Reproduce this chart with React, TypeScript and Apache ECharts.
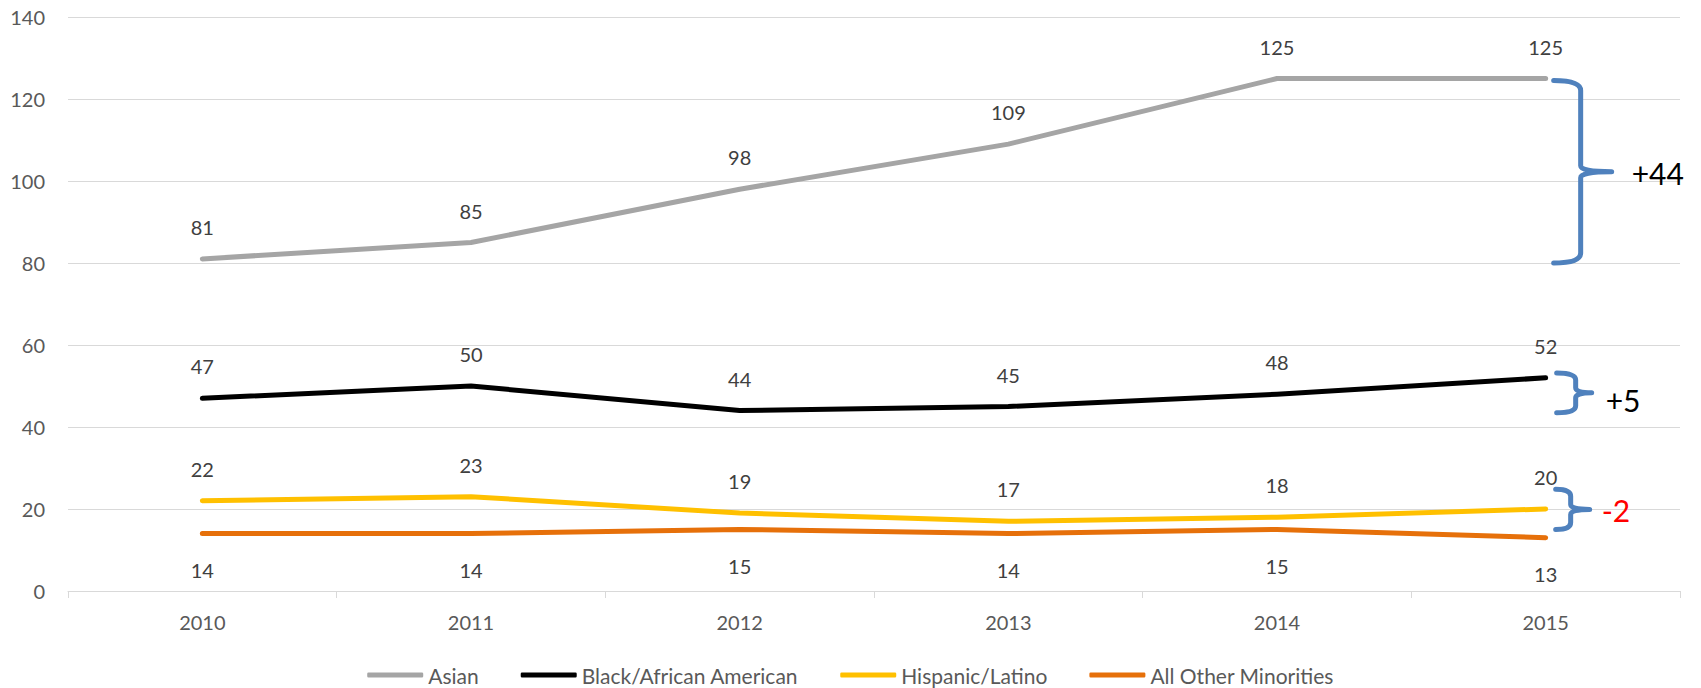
import React, { useEffect, useRef } from "react";
import * as echarts from "echarts";

const categories = ["2010", "2011", "2012", "2013", "2014", "2015"];
const asian = [81, 85, 98, 109, 125, 125];
const black = [47, 50, 44, 45, 48, 52];
const hispanic = [22, 23, 19, 17, 18, 20];
const otherMinorities = [14, 14, 15, 14, 15, 13];
const seriesNames = ["Asian", "Black/African American", "Hispanic/Latino", "All Other Minorities"];
const seriesColors = ["#A5A5A5", "#000000", "#FFC000", "#E6700A"];
const yMin = 0;
const yMax = 140;
const yInterval = 20;

// brace annotations (value ranges on the y axis)
const braceTops = [124.5, 53.2, 24.8];
const braceBottoms = [80, 43.5, 15];
const braceLabels = ["+44", "+5", "-2"];
const braceLabelColors = ["#000000", "#000000", "#FF0000"];

// brace geometry (pixel offsets from the last category centre)
const braceGeom = [
  { x0: 8, xv: 35, xt: 66, tx: 86, r: 10, rm: 6, dy: 1 },
  { x0: 11, xv: 30, xt: 46, tx: 60, r: 7, rm: 5, dy: 7 },
  { x0: 10, xv: 25, xt: 44, tx: 56, r: 7, rm: 5, dy: 1 },
];

const FONT = "Lato";

export default function App() {
  const ref = useRef<HTMLDivElement>(null);

  useEffect(() => {
    const chart = echarts.init(ref.current as HTMLDivElement, null, { renderer: "svg" });
    const data = [asian, black, hispanic, otherMinorities];

    chart.setOption({
      animation: false,
      backgroundColor: "#FFFFFF",
      grid: { left: 68, right: 21, top: 17, bottom: 97, containLabel: false },
      legend: {
        left: "center",
        top: 663,
        padding: 0,
        icon: "roundRect",
        itemWidth: 56,
        itemHeight: 5,
        itemGap: 42,
        textStyle: { fontFamily: FONT, fontSize: 21, color: "#595959", lineHeight: 24 },
        data: seriesNames,
      },
      xAxis: {
        type: "category",
        data: categories,
        boundaryGap: true,
        axisLine: { show: true, lineStyle: { color: "#D9D9D9", width: 1 } },
        axisTick: { show: true, length: 7, lineStyle: { color: "#D9D9D9" } },
        axisLabel: { fontFamily: FONT, fontSize: 20, color: "#595959", margin: 21 },
        splitLine: { show: false },
      },
      yAxis: {
        type: "value",
        min: yMin,
        max: yMax,
        interval: yInterval,
        axisLine: { show: false },
        axisTick: { show: false },
        axisLabel: { fontFamily: FONT, fontSize: 20, color: "#595959", margin: 23 },
        splitLine: { show: true, lineStyle: { color: "#D9D9D9", width: 1 } },
      },
      series: seriesNames.map((name, i) => ({
        name,
        type: "line",
        data: data[i],
        symbol: "circle",
        symbolSize: 2,
        showSymbol: true,
        itemStyle: { color: seriesColors[i] },
        lineStyle: { color: seriesColors[i], width: 5, cap: "round", join: "round" },
        label: {
          show: true,
          position: i === 3 ? "bottom" : "top",
          distance: i === 3 ? 25 : 21,
          fontFamily: FONT,
          fontSize: 20,
          color: "#404040",
        },
        z: 10 - i,
      })),
    });

    const lastIdx = categories.length - 1;
    const graphics: any[] = [];
    braceTops.forEach((topVal, i) => {
      const g = braceGeom[i];
      const pTop = chart.convertToPixel({ xAxisIndex: 0, yAxisIndex: 0 }, [lastIdx, topVal]) as number[];
      const pBot = chart.convertToPixel({ xAxisIndex: 0, yAxisIndex: 0 }, [lastIdx, braceBottoms[i]]) as number[];
      const xc = pTop[0];
      const yT = pTop[1];
      const yB = pBot[1];
      const ym = (yT + yB) / 2;
      const x0 = xc + g.x0;
      const xv = xc + g.xv;
      const xt = xc + g.xt;
      const d =
        `M${x0},${yT} Q${xv},${yT} ${xv},${yT + g.r} L${xv},${ym - g.rm} Q${xv},${ym} ${xt},${ym} ` +
        `M${xt},${ym} Q${xv},${ym} ${xv},${ym + g.rm} L${xv},${yB - g.r} Q${xv},${yB} ${x0},${yB}`;
      const shapeName = "brace" + i;
      echarts.graphic.registerShape(shapeName, (echarts.graphic as any).extendPath(d, {}));
      graphics.push({
        type: shapeName,
        x: 0,
        y: 0,
        z: 100,
        style: { fill: "none", stroke: "#4F81BD", lineWidth: 5, lineCap: "round", lineJoin: "round" },
      });
      graphics.push({
        type: "text",
        x: xc + g.tx,
        y: ym + g.dy,
        z: 100,
        style: {
          text: braceLabels[i],
          fontFamily: FONT,
          fontSize: 30,
          fill: braceLabelColors[i],
          verticalAlign: "middle",
          align: "left",
        },
      });
    });
    chart.setOption({ graphic: graphics });

    return () => {
      chart.dispose();
    };
  }, []);

  return (
    <div
      ref={ref}
      style={{ position: "fixed", left: 0, top: 0, width: 1701, height: 688, background: "#fff" }}
    />
  );
}
